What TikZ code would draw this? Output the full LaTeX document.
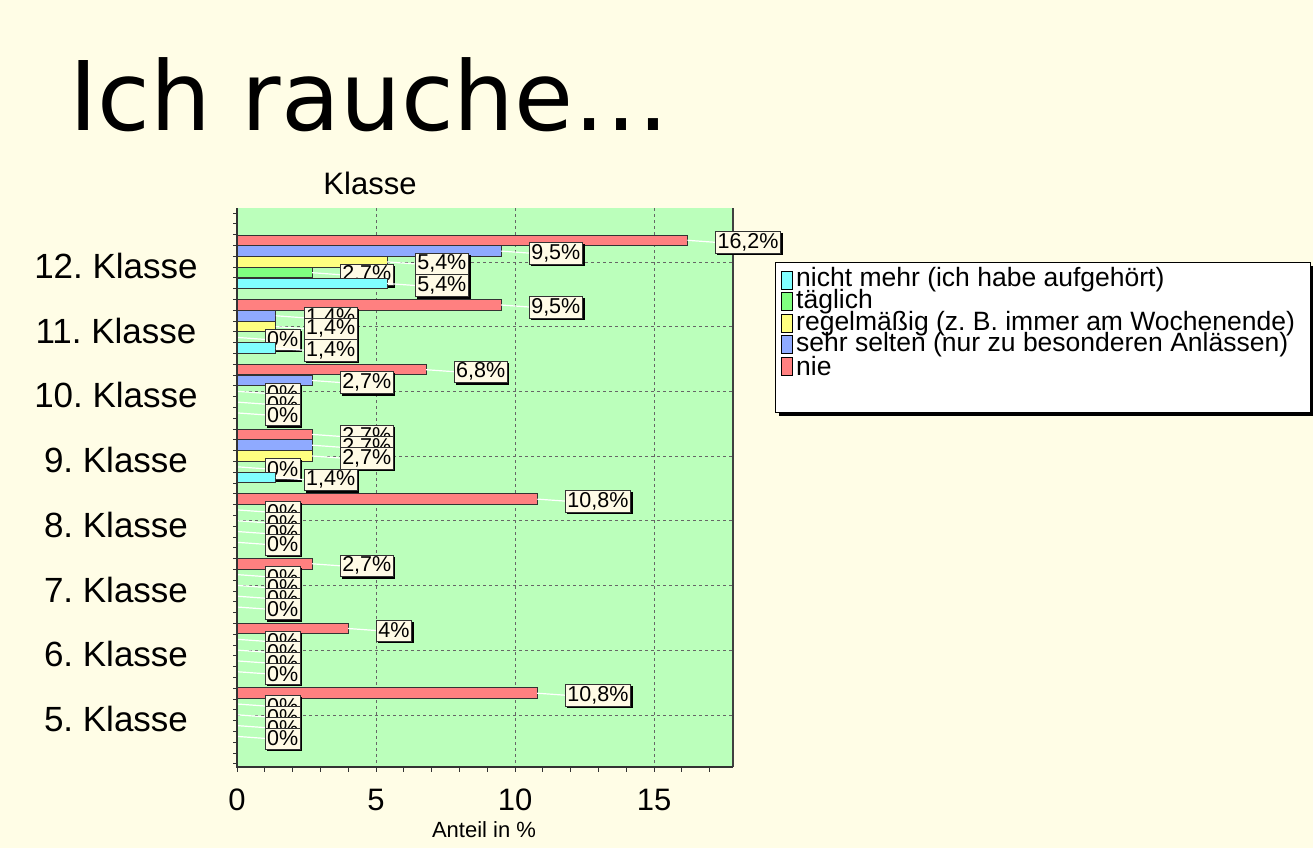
\documentclass[tikz,border=0pt]{standalone}
\usepackage{fontspec}
\setmainfont{Liberation Sans}
\newfontfamily\titlefont{DejaVu Sans}
\frenchspacing
\definecolor{bgcream}{HTML}{FFFDE6}
\definecolor{plotgreen}{HTML}{BBFFBB}
\definecolor{barnie}{HTML}{FF8080}
\definecolor{barselten}{HTML}{8FAAFF}
\definecolor{barregel}{HTML}{FFFF80}
\definecolor{bartaeg}{HTML}{80FF80}
\definecolor{barnicht}{HTML}{80FFFF}
\definecolor{labelbg}{HTML}{FFFBE6}
\tikzset{
  bar/.style={draw=black!80, line width=0.9pt},
  vallabel/.style={draw=black!80, fill=labelbg, font=\fontsize{21.5}{21.5}\selectfont, inner sep=2pt, minimum height=21pt, anchor=west},
  gridline/.style={dashed, black!60, line width=0.7pt},
  classlabel/.style={font=\fontsize{35}{35}\selectfont},
  legendtext/.style={font=\fontsize{26.5}{26.5}\selectfont, anchor=west, inner sep=0pt}
}
\begin{document}
\begin{tikzpicture}[x=1pt, y=-1pt]
  \fill[bgcream] (0,0) rectangle (1313,848);
  \useasboundingbox (0,0) rectangle (1313,848);
  % title
  \node (title) [anchor=west, font=\titlefont\fontsize{96}{96}\selectfont] at (66,95) {Ich rauche\ldots};
  \node (axtitle) [font=\fontsize{31}{31}\selectfont] at (370,183) {Klasse};
  % plot area
  \fill[plotgreen] (237,208) rectangle (733,767);
  \foreach \v in {5,10,15}
    \draw[gridline] ({237+27.8*\v},208) -- ({237+27.8*\v},767);
  \foreach \g in {0,...,7}
    \draw[gridline] (237,{262+64.7*\g}) -- (733,{262+64.7*\g});
  \draw[black!75, line width=1.2pt] (733,208) -- (733,767);
  % bars and value labels
  \foreach [count=\g from 0] \vals in {{16.2/16{,}2\%/barnie,9.5/9{,}5\%/barselten,5.4/5{,}4\%/barregel,2.7/2{,}7\%/bartaeg,5.4/5{,}4\%/barnicht},
      {9.5/9{,}5\%/barnie,1.4/1{,}4\%/barselten,1.4/1{,}4\%/barregel,0/0\%/bartaeg,1.4/1{,}4\%/barnicht},
      {6.8/6{,}8\%/barnie,2.7/2{,}7\%/barselten,0/0\%/barregel,0/0\%/bartaeg,0/0\%/barnicht},
      {2.7/2{,}7\%/barnie,2.7/2{,}7\%/barselten,2.7/2{,}7\%/barregel,0/0\%/bartaeg,1.4/1{,}4\%/barnicht},
      {10.8/10{,}8\%/barnie,0/0\%/barselten,0/0\%/barregel,0/0\%/bartaeg,0/0\%/barnicht},
      {2.7/2{,}7\%/barnie,0/0\%/barselten,0/0\%/barregel,0/0\%/bartaeg,0/0\%/barnicht},
      {4/4\%/barnie,0/0\%/barselten,0/0\%/barregel,0/0\%/bartaeg,0/0\%/barnicht},
      {10.8/10{,}8\%/barnie,0/0\%/barselten,0/0\%/barregel,0/0\%/bartaeg,0/0\%/barnicht}}{
    \foreach [count=\k from 0] \v/\txt/\col in \vals{
      \pgfmathsetmacro{\ymid}{240.3+64.7*\g+10.8*\k}
      \pgfmathsetmacro{\xend}{237+27.8*\v}
      \ifdim\v pt>0pt
        \draw[bar, fill=\col] (237,\ymid-5.3) rectangle (\xend,\ymid+5.2);
      \fi
      \coordinate (barend-\g-\k) at (\xend,\ymid);
      \node (val-\g-\k) [vallabel] at (\xend+28,\ymid+2) {\phantom{\txt}};
      \fill[black] ([xshift=2pt,yshift=-2pt]val-\g-\k.south west) rectangle ([xshift=2pt,yshift=-2pt]val-\g-\k.north east);
      \draw[white, line width=1.2pt] (barend-\g-\k) -- (val-\g-\k.west);
      \node [vallabel] at (\xend+28,\ymid+2) {\txt};
    }
  }
  % axes
  \draw[black!80, line width=1.4pt] (237,208) -- (237,767) -- (733,767);
  \foreach \i in {0,...,51}
    \draw[black!80, line width=0.8pt] (233,{213+10.8*\i}) -- (237,{213+10.8*\i});
  \foreach \v in {0,...,17}
    \draw[black!80, line width=0.8pt] ({237+27.8*\v},767) -- ({237+27.8*\v},772);
  \foreach \v in {0,5,10,15}
    \node (xtick-\v) [font=\fontsize{31}{31}\selectfont] at ({237+27.8*\v},800) {\v};
  \node (xtitle) [font=\fontsize{22}{22}\selectfont] at (484,830) {Anteil in \%};
  \foreach [count=\g from 0] \cls in {12,11,10,9,8,7,6,5}
    \node (class-\cls) [classlabel] at (116,{266+64.7*\g}) {\cls. Klasse};
  % legend
  \fill[black] (779,266) rectangle (1314,416);
  \node (legend) [draw=black, line width=1pt, fill=white, minimum width=535pt, minimum height=150pt, anchor=north west, inner sep=0pt] at (775,262) {};
  \foreach [count=\i from 0] \col/\txt in {barnicht/nicht mehr (ich habe aufgehört),bartaeg/täglich,
      barregel/regelmäßig (z. B. immer am Wochenende),barselten/sehr selten (nur zu besonderen Anlässen),barnie/nie}{
    \draw[black, line width=0.8pt, fill=\col] (781,{271+21.6*\i}) rectangle (792,{289+21.6*\i});
    \node (leg-\i) [legendtext] at (796,{280+21.6*\i}) {\txt};
  }
\end{tikzpicture}
\end{document}
